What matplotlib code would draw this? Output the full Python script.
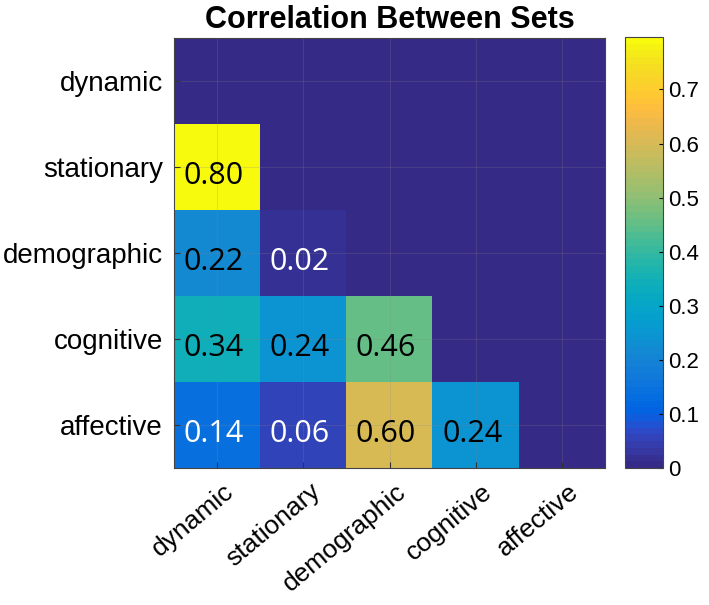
import numpy as np
import matplotlib
matplotlib.use("Agg")
import matplotlib.pyplot as plt
import matplotlib.transforms as mtransforms
from matplotlib.colors import ListedColormap

# ---- data ----
labels = ["dynamic", "stationary", "demographic", "cognitive", "affective"]
row_stationary = [0.80]
row_demographic = [0.22, 0.02]
row_cognitive = [0.34, 0.24, 0.46]
row_affective = [0.14, 0.06, 0.60, 0.24]
cbar_ticks = [0, 0.1, 0.2, 0.3, 0.4, 0.5, 0.6, 0.7]
title = "Correlation Between Sets"

lower_rows = [[], row_stationary, row_demographic, row_cognitive, row_affective]
n = len(labels)
M = np.zeros((n, n))
for i, r in enumerate(lower_rows):
    for j, v in enumerate(r):
        M[i, j] = v

# ---- MATLAB parula colormap ----
_parula = [
 [0.2081,0.1663,0.5292],[0.2116,0.1898,0.5777],[0.2123,0.2138,0.6270],[0.2081,0.2386,0.6771],
 [0.1959,0.2645,0.7279],[0.1707,0.2919,0.7792],[0.1253,0.3242,0.8303],[0.0591,0.3598,0.8683],
 [0.0117,0.3875,0.8820],[0.0060,0.4086,0.8828],[0.0165,0.4266,0.8786],[0.0329,0.4430,0.8720],
 [0.0498,0.4586,0.8641],[0.0629,0.4737,0.8554],[0.0723,0.4887,0.8467],[0.0779,0.5040,0.8384],
 [0.0793,0.5200,0.8312],[0.0749,0.5375,0.8263],[0.0641,0.5570,0.8240],[0.0488,0.5772,0.8228],
 [0.0343,0.5966,0.8199],[0.0265,0.6137,0.8135],[0.0239,0.6287,0.8038],[0.0231,0.6418,0.7913],
 [0.0228,0.6535,0.7768],[0.0267,0.6642,0.7607],[0.0384,0.6743,0.7436],[0.0590,0.6838,0.7254],
 [0.0843,0.6928,0.7062],[0.1133,0.7015,0.6859],[0.1453,0.7098,0.6646],[0.1801,0.7177,0.6424],
 [0.2178,0.7250,0.6193],[0.2586,0.7317,0.5954],[0.3022,0.7376,0.5712],[0.3482,0.7424,0.5473],
 [0.3953,0.7459,0.5244],[0.4420,0.7481,0.5033],[0.4871,0.7491,0.4840],[0.5300,0.7491,0.4661],
 [0.5709,0.7485,0.4494],[0.6099,0.7473,0.4337],[0.6473,0.7456,0.4188],[0.6834,0.7435,0.4044],
 [0.7184,0.7411,0.3905],[0.7525,0.7384,0.3768],[0.7858,0.7356,0.3633],[0.8185,0.7327,0.3498],
 [0.8507,0.7299,0.3360],[0.8824,0.7274,0.3217],[0.9139,0.7258,0.3063],[0.9450,0.7261,0.2886],
 [0.9739,0.7314,0.2666],[0.9938,0.7455,0.2403],[0.9990,0.7653,0.2164],[0.9955,0.7861,0.1967],
 [0.9880,0.8066,0.1794],[0.9789,0.8271,0.1633],[0.9697,0.8481,0.1475],[0.9626,0.8705,0.1309],
 [0.9589,0.8949,0.1132],[0.9598,0.9218,0.0948],[0.9661,0.9514,0.0755],[0.9763,0.9831,0.0538]]
parula = ListedColormap(_parula, name="parula")

plt.rcParams['font.family'] = ['Liberation Sans', 'DejaVu Sans']

fig = plt.figure(figsize=(7.09, 6.05), dpi=100)
ax = fig.add_axes([174/709, 1-468/605, 431/709, 430/605])
cax = fig.add_axes([625/709, 1-468/605, 38/709, 431/605])

vmax = 0.797
im = ax.imshow(M, cmap=parula, vmin=0, vmax=vmax, aspect='auto', interpolation='nearest')

for i, r in enumerate(lower_rows):
    for j, v in enumerate(r):
        col = 'white' if v < 0.18 else 'black'
        ax.text(j - 0.04, i + 0.1, f"{v:.2f}", ha='center', va='center', color=col,
                fontsize=22, family=['Open Sans', 'DejaVu Sans'])

ax.set_xticks(range(n))
ax.set_yticks(range(n))
ax.set_xticklabels(labels, rotation=40, ha='right', va='top', rotation_mode='anchor', fontsize=19)
ax.set_yticklabels(labels, fontsize=20)
ax.tick_params(direction='in', length=4, width=0.8, color='#333333', pad=8)
ax.tick_params(axis='x', pad=8)
offset = mtransforms.ScaledTranslation(6/100, 0, fig.dpi_scale_trans)
for lbl in ax.get_xticklabels():
    lbl.set_transform(lbl.get_transform() + offset)
ax.grid(True, color='#888888', alpha=0.22, linewidth=0.8)
for s in ax.spines.values():
    s.set_color('#444444')
    s.set_linewidth(0.8)
ax.set_title(title, fontsize=22, fontweight='bold', pad=7)

cb = fig.colorbar(im, cax=cax, ticks=cbar_ticks)
cb.ax.set_yticklabels([f"{t:g}" for t in cbar_ticks])
cb.ax.tick_params(labelsize=16, direction='in', length=3, width=0.8, pad=4)
cb.outline.set_edgecolor('#444444')
cb.outline.set_linewidth(0.8)

fig.savefig("out.png", dpi=100)
